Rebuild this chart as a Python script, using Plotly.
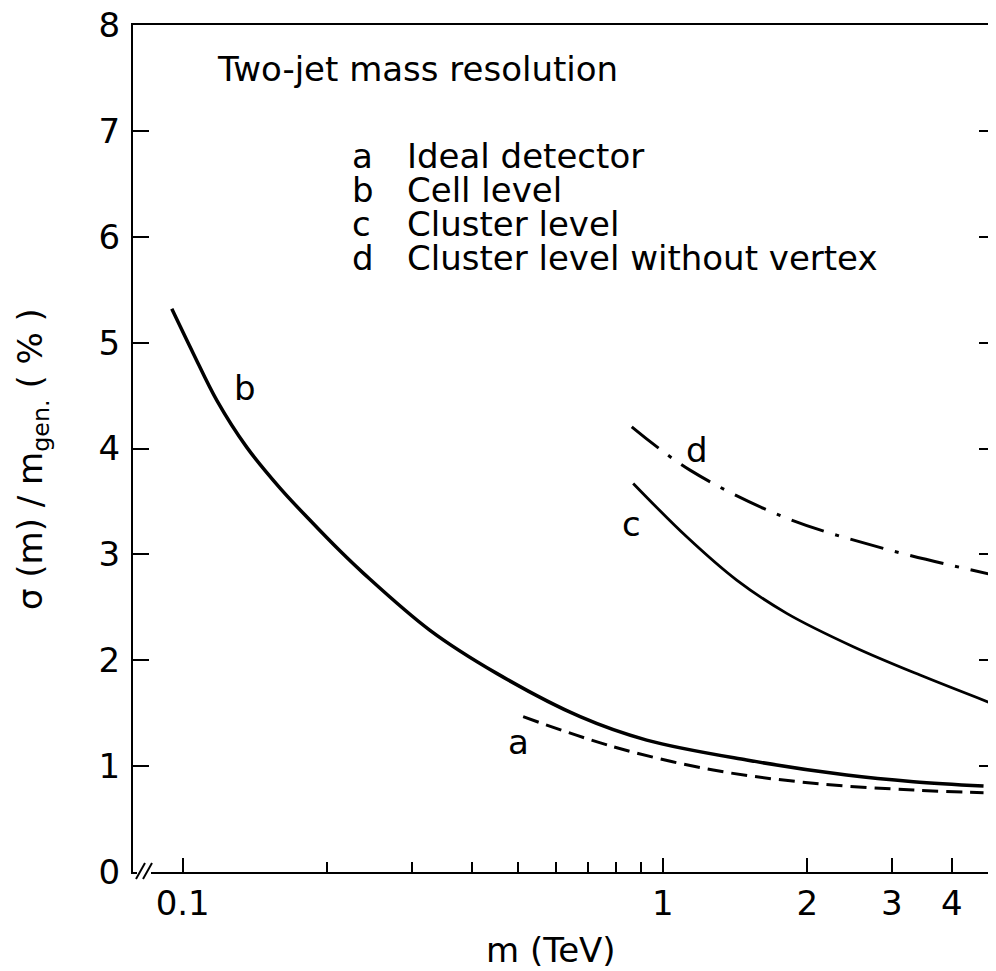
import math
import plotly.graph_objects as go

# ---- data ----
m_a = [0.512, 0.789, 1.274, 2.06, 3.33, 4.66]
s_a = [1.467, 1.183, 0.963, 0.838, 0.774, 0.749]

m_b = [0.0949, 0.1052, 0.1177, 0.1359, 0.1595, 0.184, 0.2128, 0.2378, 0.327, 0.451, 0.673, 0.926, 1.496, 2.416, 3.33, 4.66]
s_b = [5.32, 4.898, 4.457, 4.013, 3.626, 3.324, 3.031, 2.823, 2.285, 1.876, 1.467, 1.246, 1.058, 0.916, 0.853, 0.812]

m_c = [0.868, 1.122, 1.426, 1.813, 2.495, 3.436, 4.95]
s_c = [3.67, 3.166, 2.757, 2.443, 2.128, 1.860, 1.577]

m_d = [0.862, 1.14, 1.783, 2.88, 4.95]
s_d = [4.205, 3.796, 3.355, 3.057, 2.80]

x_major_ticks = [0.1, 1, 2, 3, 4]
x_major_labels = ["0.1", "1", "2", "3", "4"]
x_minor_ticks = [0.2, 0.3, 0.4, 0.5, 0.6, 0.7, 0.8, 0.9]
y_ticks = [0, 1, 2, 3, 4, 5, 6, 7, 8]

curve_labels = ["a", "b", "c", "d"]
label_pos_m = [0.50, 0.135, 0.859, 1.179]
label_pos_s = [1.23, 4.57, 3.29, 3.985]

legend_letters = ["a", "b", "c", "d"]
legend_texts = ["Ideal detector", "Cell level", "Cluster level", "Cluster level without vertex"]
title_text = "Two-jet mass resolution"

FONT = "DejaVu Sans"
TXT = 34

fig = go.Figure()
line_common = dict(color="black", width=3, shape="spline", smoothing=1.0)
fig.add_trace(go.Scatter(x=m_a, y=s_a, mode="lines", line=dict(line_common, dash="16px,8px")))
fig.add_trace(go.Scatter(x=m_b, y=s_b, mode="lines", line=dict(line_common, width=3.5)))
fig.add_trace(go.Scatter(x=m_c, y=s_c, mode="lines", line=dict(line_common, width=2.8)))
fig.add_trace(go.Scatter(x=m_d, y=s_d, mode="lines", line=dict(line_common, dash="34px,12px,4px,12px")))

# curve letters
for lab, xm, ys in zip(curve_labels, label_pos_m, label_pos_s):
    fig.add_annotation(x=math.log10(xm), y=ys, text=lab, showarrow=False,
                       font=dict(family=FONT, size=TXT, color="black"))

# page body has an 8px margin: work in page pixels and convert
OFF = 8
PAGE_W, PAGE_H = 996, 971
W, H = PAGE_W - OFF, PAGE_H - OFF
AX_L, AX_R, AX_T, AX_B = 133, 995, 25, 872  # page pixels of the plot frame
L = AX_L - OFF
R = W - (AX_R - OFF)
T = AX_T - OFF
B = H - (AX_B - OFF)
pw, ph = W - L - R, H - T - B

def px(xp):
    return (xp - OFF - L) / pw

def py(yp):
    return (H - B - (yp - OFF)) / ph

fig.add_annotation(x=px(215), y=py(69), xref="paper", yref="paper", text=title_text,
                   showarrow=False, xanchor="left", yanchor="middle",
                   font=dict(family=FONT, size=TXT, color="black"))
row_y = [156, 190, 224, 258]
for letter, txt, yy in zip(legend_letters, legend_texts, row_y):
    fig.add_annotation(x=px(350), y=py(yy), xref="paper", yref="paper", text=letter,
                       showarrow=False, xanchor="left", yanchor="middle",
                       font=dict(family=FONT, size=TXT, color="black"))
    fig.add_annotation(x=px(405), y=py(yy), xref="paper", yref="paper", text=txt,
                       showarrow=False, xanchor="left", yanchor="middle",
                       font=dict(family=FONT, size=TXT, color="black"))

# axis titles
fig.add_annotation(x=px(551), y=py(950), xref="paper", yref="paper", text="m (TeV)",
                   showarrow=False, xanchor="center", yanchor="middle",
                   font=dict(family=FONT, size=TXT, color="black"))
fig.add_annotation(x=px(32), y=py(459), xref="paper", yref="paper",
                   text="σ (m) / m<sub>gen.</sub> ( % )", textangle=-90,
                   showarrow=False, xanchor="center", yanchor="middle",
                   font=dict(family=FONT, size=TXT, color="black"))

# axis break marks
fig.add_shape(type="rect", xref="paper", yref="paper", x0=px(137), x1=px(151), y0=py(876), y1=py(868),
              fillcolor="white", line=dict(width=0), layer="above")
for x0 in (136, 143):
    fig.add_shape(type="line", xref="paper", yref="paper", x0=px(x0), y0=py(879), x1=px(x0 + 9), y1=py(863),
                  line=dict(color="black", width=2), layer="above")

x_lo = (AX_L - 662.7) / 480
x_hi = (AX_R - 662.7) / 480
fig.update_xaxes(type="log", range=[x_lo, x_hi],
                 showline=True, linecolor="black", linewidth=2, mirror=True,
                 tickmode="array", tickvals=x_major_ticks, ticktext=x_major_labels,
                 ticks="inside", ticklen=14, tickwidth=2, tickcolor="black",
                 minor=dict(tickmode="array", tickvals=x_minor_ticks, ticks="inside",
                            ticklen=10, tickwidth=2, tickcolor="black", showgrid=False),
                 showgrid=False, zeroline=False, ticklabeloverflow="allow",
                 tickfont=dict(family=FONT, size=34, color="black"))
fig.update_yaxes(range=[0, 8], showline=True, linecolor="black", linewidth=2, mirror="ticks",
                 tickmode="array", tickvals=y_ticks,
                 ticks="inside", ticklen=16, tickwidth=2, tickcolor="black",
                 showgrid=False, zeroline=False, ticklabeloverflow="allow",
                 ticklabelstandoff=4,
                 tickfont=dict(family=FONT, size=34, color="black"))

fig.update_layout(width=W, height=H, margin=dict(l=L, r=R, t=T, b=B, autoexpand=False),
                  plot_bgcolor="white", paper_bgcolor="white", showlegend=False)

fig.write_html("out.html")
